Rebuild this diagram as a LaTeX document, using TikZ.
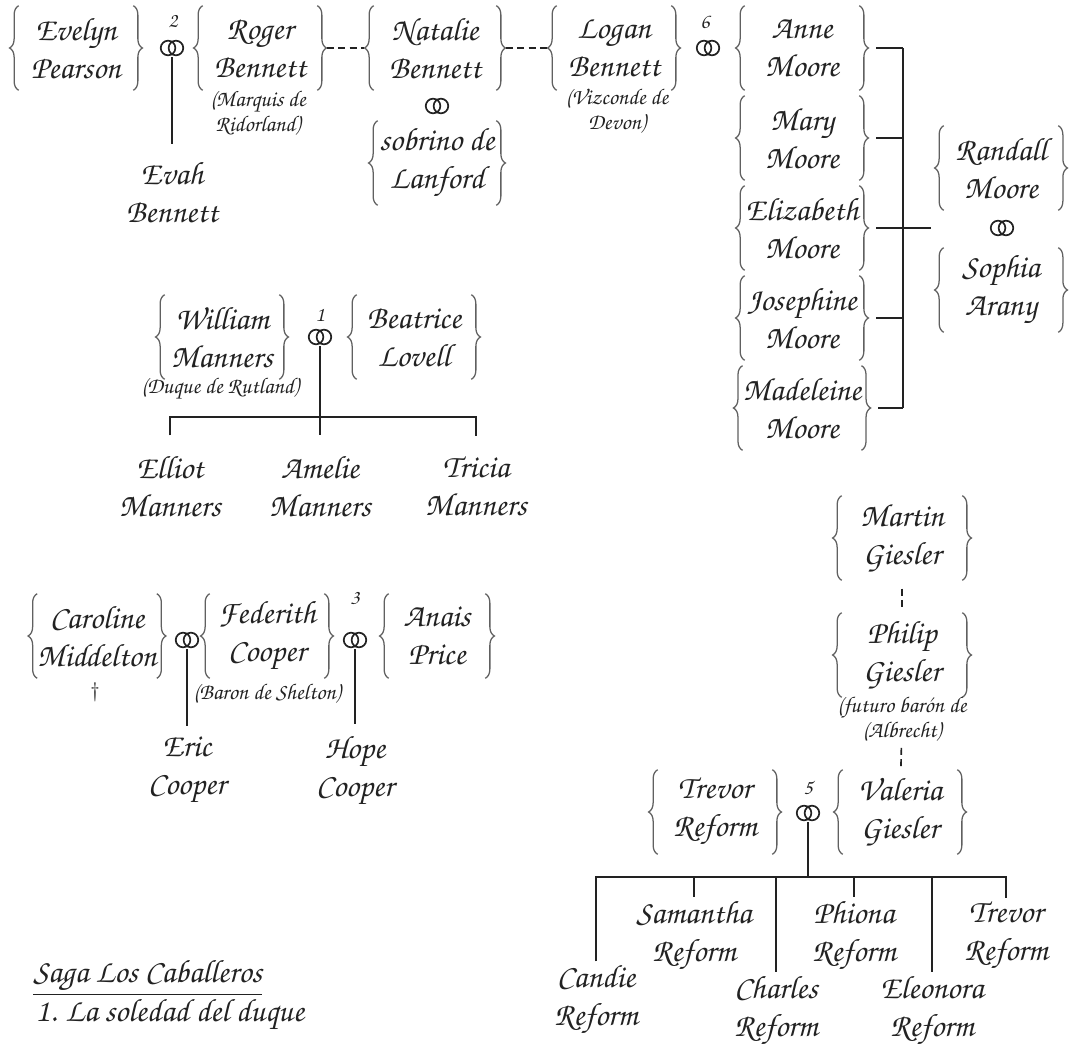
\documentclass[tikz,border=0pt]{standalone}
\usepackage[T1,TU]{fontenc}
\usepackage{tikz}
\usetikzlibrary{positioning,calc,decorations.pathreplacing}
\definecolor{ink}{RGB}{34,34,34}
\definecolor{bracegray}{RGB}{96,96,96}
\newcommand{\chancery}{\fontencoding{T1}\fontfamily{pzc}\fontseries{mb}\fontshape{it}}
\newcommand{\namefont}{\chancery\fontsize{23}{27}\selectfont}
\newcommand{\notefont}{\chancery\fontsize{16}{18}\selectfont}
\newcommand{\numfont}{\chancery\fontsize{15}{16}\selectfont}
\tikzset{
  curly/.style={draw=bracegray, line width=0.9pt, decorate, decoration={brace, amplitude=6.5pt}},
  person/.style={minimum width=2.85cm, minimum height=2.1cm, inner sep=0pt, align=center,
    font=\namefont, text=ink,
    append after command={(\tikzlastnode.south west) edge[curly] (\tikzlastnode.north west)
      (\tikzlastnode.north east) edge[curly] (\tikzlastnode.south east)}},
  kid/.style={align=center, font=\namefont, text=ink, inner sep=2pt},
  title/.style={align=center, font=\notefont, text=ink, inner sep=1pt},
  wed/.style={font=\numfont, text=ink, inner sep=1pt},
  ring/.style={minimum width=0.64cm, minimum height=0.46cm, inner sep=0pt,
    path picture={\draw[ink, line width=1.2pt]
      ([xshift=-2.8pt]path picture bounding box.center) circle[radius=5.2pt]
      ([xshift=2.8pt]path picture bounding box.center) circle[radius=5.2pt];}},
  link/.style={draw=ink, line width=1.2pt},
  kin/.style={draw=ink, line width=1.2pt, dash pattern=on 5pt off 3pt},
}
\begin{document}
\begin{tikzpicture}[x=0.025cm, y=-0.025cm]
  \useasboundingbox (0,0) rectangle (1070,1044);

  % Bennett
  \node[person] (evelyn) at (76,48) {Evelyn\\Pearson};
  \node[ring] (w2) at (172,48) {};
  \node[wed] (n2) at (173,21) {2};
  \node[person] (roger) at (260,48) {Roger\\Bennett};
  \node[title] (troger) at (258,113) {(Marquis de\\Ridorland)};
  \node[kid, inner ysep=12pt] (evah) at (172,192) {Evah\\Bennett};
  \draw[link] (w2) -- (evah);
  \node[person, minimum width=3.05cm] (natalie) at (435,48) {Natalie\\Bennett};
  \node[ring] (wn) at (437,106) {};
  \node[person, minimum width=2.95cm] (sobrino) at (437,163) {sobrino de\\Lanford};
  \node[person] (logan) at (614,48) {Logan\\Bennett};
  \node[title] (tlogan) at (617,111) {(Vizconde de\\Devon)};
  \draw[kin, shorten <=7pt, shorten >=7pt] (roger) -- (natalie);
  \draw[kin, shorten <=7pt, shorten >=7pt] (natalie) -- (logan);

  % Moore
  \node[ring] (w6) at (708,48) {};
  \node[wed] (n6) at (705,22) {6};
  \node[person] (anne) at (802,48) {Anne\\Moore};
  \node[person] (mary) at (802,138) {Mary\\Moore};
  \node[person] (elizabeth) at (802,228) {Elizabeth\\Moore};
  \node[person] (josephine) at (802,318) {Josephine\\Moore};
  \node[person] (madeleine) at (802,408) {Madeleine\\Moore};
  \node[person] (randall) at (1001,168) {Randall\\Moore};
  \node[ring] (wr) at (1002,228) {};
  \node[person] (sophia) at (1001,290) {Sophia\\Arany};
  \coordinate (mbar) at (903,48);
  \foreach \p in {anne,mary,elizabeth,josephine,madeleine}
    \draw[link] ([xshift=12pt]\p.east) -- (\p.east -| mbar);
  \draw[link] (mbar) -- (madeleine.east -| mbar);
  \draw[link] (elizabeth.east -| mbar) -- ([xshift=-9pt]randall.west |- elizabeth.east);

  % Manners
  \node[person] (william) at (222,337) {William\\Manners};
  \node[title] (twilliam) at (220,389) {(Duque de Rutland)};
  \node[ring] (w1) at (320,337) {};
  \node[wed] (n1) at (320,315) {1};
  \node[person] (beatrice) at (414,337) {Beatrice\\Lovell};
  \node[kid, inner ysep=14pt] (elliot) at (170,486) {Elliot\\Manners};
  \node[kid, inner ysep=14pt] (amelie) at (320,486) {Amelie\\Manners};
  \node[kid, inner ysep=14pt] (tricia) at (476,486) {Tricia\\Manners};
  \coordinate (bus1) at (320,417);
  \draw[link] (w1) -- (amelie);
  \draw[link] (elliot) |- (bus1) -| (tricia);

  % Cooper
  \node[person] (caroline) at (97,636) {Caroline\\Middelton};
  \node[font=\normalfont\fontsize{15}{15}\selectfont, text=ink] (dag) at (95,692) {\textdagger};
  \node[ring] (wc) at (187,640) {};
  \node[person] (federith) at (267,636) {Federith\\Cooper};
  \node[title] (tfederith) at (267,694) {(Baron de Shelton)};
  \node[ring] (w3) at (355,640) {};
  \node[wed] (n3) at (355,598) {3};
  \node[person, minimum width=2.4cm] (anais) at (437,636) {Anais\\Price};
  \node[kid, inner ysep=8pt] (eric) at (187,771) {Eric\\Cooper};
  \node[kid, inner ysep=8pt] (hope) at (355,771) {Hope\\Cooper};
  \draw[link] (wc) -- (eric);
  \draw[link] (w3) -- (hope);

  % Giesler / Reform
  \node[person, minimum width=3.0cm] (martin) at (902,538) {Martin\\Giesler};
  \node[person, minimum width=3.0cm] (philip) at (902,655) {Philip\\Giesler};
  \node[title] (tphilip) at (902,719) {(futuro barón de\\(Albrecht)};
  \draw[kin, shorten <=6pt, shorten >=2pt] (martin) -- (philip);
  \node[person] (trevor) at (715,812) {Trevor\\Reform};
  \node[ring] (w5) at (808,813) {};
  \node[wed] (n5) at (808,788) {5};
  \node[person] (valeria) at (900,812) {Valeria\\Giesler};
  \draw[kin, shorten <=3pt] (tphilip) -- (valeria);
  \node[kid] (candie) at (596,1000) {Candie\\Reform};
  \node[kid] (samantha) at (694,936) {Samantha\\Reform};
  \node[kid] (charles) at (776,1011) {Charles\\Reform};
  \node[kid] (phiona) at (854,936) {Phiona\\Reform};
  \node[kid] (eleonora) at (932,1011) {Eleonora\\Reform};
  \node[kid] (trevorjr) at (1006,936) {Trevor\\Reform};
  \coordinate (bus5) at (808,877);
  \draw[link] (w5) -- (bus5);
  \draw[link] (candie) |- (bus5) -| (trevorjr);
  \foreach \k in {samantha,charles,phiona,eleonora}
    \draw[link] (bus5 -| \k.north) -- (\k);

  % saga
  \node[anchor=west, font=\namefont, text=ink, inner sep=0pt] (saga) at (33,977) {\underline{Saga Los Caballeros}};
  \node[anchor=west, font=\namefont, text=ink, inner sep=0pt] (libro) at (35,1015) {1. La soledad del duque};
\end{tikzpicture}
\end{document}
